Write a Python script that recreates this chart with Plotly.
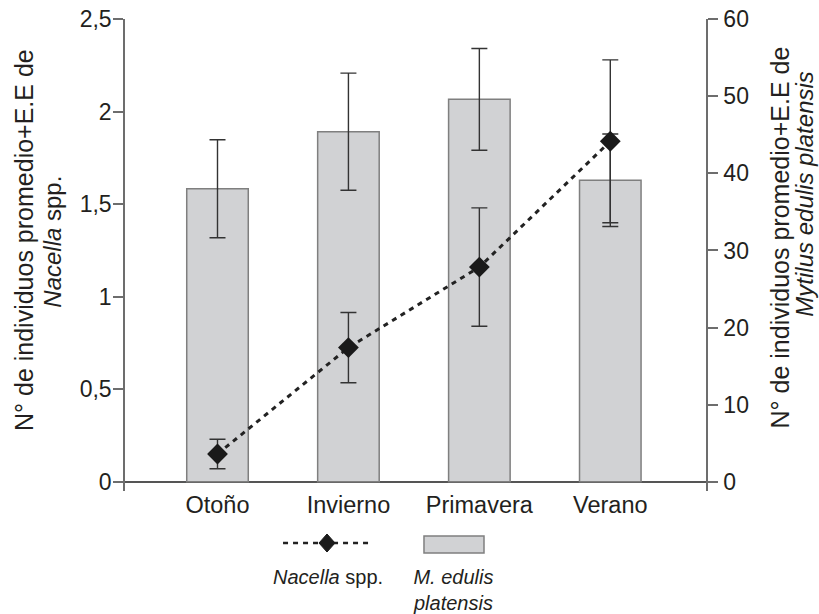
import plotly.graph_objects as go

categories = ["Otoño", "Invierno", "Primavera", "Verano"]
mytilus_mean = [38.0, 45.4, 49.6, 39.1]
mytilus_se = [6.35, 7.6, 6.6, 6.0]
nacella_mean = [0.15, 0.725, 1.16, 1.84]
nacella_se = [0.08, 0.19, 0.32, 0.44]
left_ticks = [0, 0.5, 1, 1.5, 2, 2.5]
left_ticklabels = ["0", "0,5", "1", "1,5", "2", "2,5"]
right_ticks = [0, 10, 20, 30, 40, 50, 60]

FONT = "Liberation Sans, Arial, sans-serif"
TXT = "#231f20"
BAR_FILL = "#d1d2d4"
BAR_LINE = "#7f7f7f"
AX = "#6d6d6d"

fig = go.Figure()

fig.add_trace(go.Bar(
    x=categories, y=mytilus_mean, yaxis="y", width=0.47,
    marker=dict(color=BAR_FILL, line=dict(color=BAR_LINE, width=1.5)),
    error_y=dict(type="data", array=mytilus_se, visible=True,
                 color="#333333", thickness=1.4, width=8),
    showlegend=False,
))

fig.add_trace(go.Scatter(
    x=categories, y=nacella_mean, yaxis="y2", mode="lines+markers",
    line=dict(color="#222222", width=3, dash="5px,5px"),
    marker=dict(symbol="diamond", size=16, color="#1a1a1a"),
    error_y=dict(type="data", array=nacella_se, visible=True,
                 color="#333333", thickness=1.4, width=8),
    showlegend=False,
))

fig.update_layout(
    template="none",
    width=819, height=614,
    margin=dict(l=125, r=113, t=19, b=123, pad=0),
    paper_bgcolor="white", plot_bgcolor="white",
    font=dict(family=FONT, color=TXT),
    showlegend=False,
    xaxis=dict(
        range=[-0.7065, 3.731], showline=False, showgrid=False, zeroline=False,
        automargin=False,
        ticks="", tickfont=dict(size=23.5, color=TXT), ticklabelstandoff=-3,
    ),
    yaxis=dict(
        side="right", range=[-1.2, 60.02], tickvals=right_ticks, automargin=False,
        showline=True, linecolor=AX, linewidth=1.5,
        ticks="outside", ticklen=10, tickwidth=1.5, tickcolor=AX,
        showgrid=False, zeroline=True, zerolinecolor="#555555", zerolinewidth=1.5,
        tickfont=dict(size=23, color=TXT), ticklabelstandoff=1,
        ticklabeloverflow="allow",
    ),
    yaxis2=dict(
        side="left", overlaying="y", range=[-0.05, 2.5008], automargin=False,
        tickvals=left_ticks, ticktext=left_ticklabels,
        showline=True, linecolor=AX, linewidth=1.5,
        ticks="outside", ticklen=10, tickwidth=1.5, tickcolor=AX,
        showgrid=False, zeroline=False,
        tickfont=dict(size=23, color=TXT), ticklabelstandoff=-3,
        ticklabeloverflow="allow",
    ),
)

# Axis titles (one annotation per line, placed as in the reference)
title_lines = [
    ("N° de individuos promedio+E.E de", -0.1738, 0.5318, 25),
    ("<i>Nacella</i> spp.", -0.1262, 0.5275, 24),
    ("N° de individuos promedio+E.E de", 1.1290, 0.5371, 25),
    ("<i>Mytilus edulis platensis</i>", 1.1680, 0.6292, 24),
]
for txt, x, y, sz in title_lines:
    fig.add_annotation(
        text=txt, xref="paper", yref="paper", x=x, y=y, textangle=-90,
        xanchor="center", yanchor="middle", showarrow=False,
        font=dict(size=sz, color=TXT, family=FONT),
    )

# Custom legend below the plot
fig.add_shape(type="line", xref="paper", yref="paper",
              x0=0.272, x1=0.425, y0=-0.1102, y1=-0.1102,
              line=dict(color="#222222", width=2.5, dash="5px,5px"))
fig.add_shape(type="path", xref="paper", yref="paper",
              path="M 0.3477 -0.0911 L 0.3615 -0.1102 L 0.3477 -0.1293 L 0.3339 -0.1102 Z",
              fillcolor="#1a1a1a", line=dict(color="#1a1a1a", width=1))
fig.add_shape(type="rect", xref="paper", yref="paper",
              x0=0.5146, x1=0.6179, y0=-0.0953, y1=-0.1314,
              fillcolor=BAR_FILL, line=dict(color=BAR_LINE, width=1.5))
fig.add_annotation(
    text="<i>Nacella</i> spp.", xref="paper", yref="paper",
    x=0.349, y=-0.182, xanchor="center", yanchor="middle", showarrow=False,
    font=dict(size=20, color=TXT, family=FONT),
)
fig.add_annotation(
    text="<i>M. edulis<br>platensis</i>", xref="paper", yref="paper",
    x=0.5645, y=-0.2087, xanchor="center", yanchor="middle", showarrow=False,
    font=dict(size=20, color=TXT, family=FONT),
)

# remove the default 8px page margin so the 819x614 figure fills the window exactly
fig.write_html(
    "out.html",
    config={"displayModeBar": False},
    post_script="document.body.style.margin='0';"
                "document.documentElement.style.overflow='hidden';",
)
